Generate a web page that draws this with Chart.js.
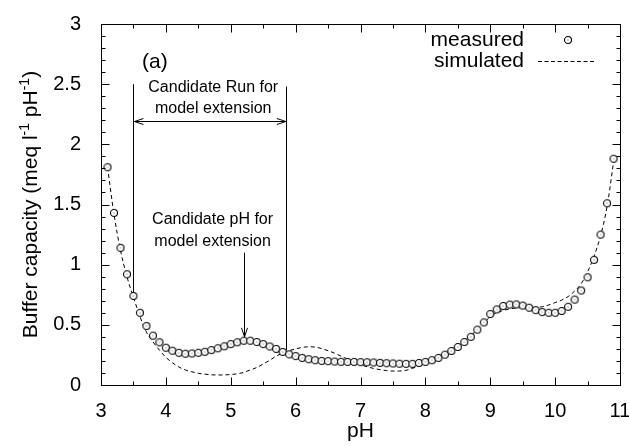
<!DOCTYPE html>
<html>
<head>
<meta charset="utf-8">
<script src="https://cdn.jsdelivr.net/npm/chart.js@4"></script>
<style>
  html, body { margin: 0; padding: 0; background: #fff; }
  canvas { display: block; }
</style>
</head>
<body>
<canvas id="bufferChart" width="629" height="446"></canvas>
<script>
// measured titration points (pH, buffer capacity)
const phMeasured = [3.1, 3.2, 3.3, 3.4, 3.5, 3.6, 3.7, 3.8, 3.9, 4.0,
  4.1, 4.2, 4.3, 4.4, 4.5, 4.6, 4.7, 4.8, 4.9, 5.0,
  5.1, 5.2, 5.3, 5.4, 5.5, 5.6, 5.7, 5.8, 5.9, 6.0,
  6.1, 6.2, 6.3, 6.4, 6.5, 6.6, 6.7, 6.8, 6.9, 7.0,
  7.1, 7.2, 7.3, 7.4, 7.5, 7.6, 7.7, 7.8, 7.9, 8.0,
  8.1, 8.2, 8.3, 8.4, 8.5, 8.6, 8.7, 8.8, 8.9, 9.0,
  9.1, 9.2, 9.3, 9.4, 9.5, 9.6, 9.7, 9.8, 9.9, 10.0,
  10.1, 10.2, 10.3, 10.4, 10.5, 10.6, 10.7, 10.8, 10.9];
const bufMeasured = [1.81, 1.43, 1.14, 0.92, 0.74, 0.60, 0.49, 0.41, 0.355, 0.31,
  0.285, 0.268, 0.26, 0.262, 0.268, 0.276, 0.29, 0.305, 0.322, 0.34,
  0.355, 0.368, 0.368, 0.357, 0.34, 0.32, 0.30, 0.275, 0.255, 0.24,
  0.225, 0.214, 0.206, 0.20, 0.198, 0.195, 0.193, 0.192, 0.192, 0.19,
  0.189, 0.187, 0.184, 0.181, 0.179, 0.177, 0.176, 0.176, 0.183, 0.192,
  0.206, 0.225, 0.252, 0.283, 0.316, 0.357, 0.40, 0.46, 0.52, 0.59,
  0.628, 0.657, 0.668, 0.67, 0.66, 0.642, 0.622, 0.606, 0.60, 0.60,
  0.615, 0.65, 0.71, 0.785, 0.895, 1.04, 1.25, 1.51, 1.88];

// model curve
const phSimulated = phMeasured.slice();
const bufSimulated = [1.81, 1.42, 1.12, 0.90, 0.73, 0.57, 0.44, 0.36, 0.29, 0.23,
  0.185, 0.15, 0.125, 0.11, 0.097, 0.09, 0.085, 0.083, 0.084, 0.087,
  0.093, 0.105, 0.125, 0.145, 0.175, 0.205, 0.24, 0.265, 0.285, 0.30,
  0.312, 0.318, 0.315, 0.303, 0.285, 0.265, 0.24, 0.215, 0.19, 0.168,
  0.152, 0.138, 0.128, 0.12, 0.116, 0.116, 0.122, 0.138, 0.16, 0.188,
  0.215, 0.245, 0.27, 0.295, 0.33, 0.37, 0.41, 0.46, 0.51, 0.57,
  0.60, 0.62, 0.632, 0.64, 0.642, 0.642, 0.645, 0.65, 0.665, 0.685,
  0.705, 0.735, 0.78, 0.84, 0.94, 1.07, 1.24, 1.48, 1.85];

// annotations (data coordinates)
const runBounds = [3.5, 5.85];
const runLineTop = [2.5, 2.48];
const runLineBottom = [0.77, 0.29];
const runArrowY = 2.19;
const runLabel = ['Candidate Run for', 'model extension'];
const runLabelPos = [4.73, 2.47, 2.30];
const peakPH = 5.2;
const peakArrow = [1.10, 0.40];
const peakLabel = ['Candidate pH for', 'model extension'];
const peakLabelPos = [4.72, 1.375, 1.195];
const panelLabel = '(a)';
const panelPos = [3.83, 2.68];

const FONT = '"Liberation Sans", Arial, sans-serif';

function circleMarker() {
  const c = document.createElement('canvas');
  c.width = 10; c.height = 10;
  const g = c.getContext('2d');
  g.fillStyle = '#fff';
  g.strokeStyle = '#000';
  g.lineWidth = 1.1;
  g.beginPath();
  g.arc(5, 5, 3.5, 0, Math.PI * 2);
  g.fill();
  g.stroke();
  g.fillStyle = '#666';
  g.fillRect(4.5, 4.5, 1, 1);
  return c;
}
const marker = circleMarker();

function arrowHead(ctx, tx, ty, dx, dy) {
  // open V head pointing along (dx, dy)
  const len = 9, half = 3;
  const px = -dy, py = dx;
  ctx.beginPath();
  ctx.moveTo(tx - dx * len + px * half, ty - dy * len + py * half);
  ctx.lineTo(tx, ty);
  ctx.lineTo(tx - dx * len - px * half, ty - dy * len - py * half);
  ctx.stroke();
}

const frame = {
  id: 'frame',
  afterDatasetsDraw(chart) {
    const c = chart.ctx;
    const area = chart.chartArea;
    const x = chart.scales.x, y = chart.scales.y;
    const L = Math.round(area.left) + 0.5, R = Math.round(area.right) + 0.5;
    const T = Math.round(area.top) + 0.5, B = Math.round(area.bottom) + 0.5;
    c.save();
    c.setLineDash([]);
    c.strokeStyle = '#000';
    c.lineWidth = 1;
    c.beginPath();
    c.moveTo(L, T); c.lineTo(R, T); c.lineTo(R, B); c.lineTo(L, B); c.closePath();
    // inward ticks on all four sides
    for (let i = 0; i <= 16; i++) {
      const len = i % 2 === 0 ? 8 : 4;
      const px = Math.round(x.getPixelForValue(3 + i * 0.5)) + 0.5;
      c.moveTo(px, B); c.lineTo(px, B - len);
      c.moveTo(px, T); c.lineTo(px, T + len);
    }
    for (let i = 0; i <= 30; i++) {
      const len = i % 5 === 0 ? 8 : 4;
      const py = Math.round(y.getPixelForValue(i / 10)) + 0.5;
      c.moveTo(L, py); c.lineTo(L + len, py);
      c.moveTo(R, py); c.lineTo(R - len, py);
    }
    c.stroke();
    c.restore();
  }
};

const decorations = {
  id: 'decorations',
  afterDraw(chart) {
    const { ctx, chartArea: a, scales: { x, y } } = chart;
    ctx.save();
    ctx.strokeStyle = '#000';
    ctx.fillStyle = '#000';
    ctx.lineWidth = 1;

    // candidate run
    ctx.beginPath();
    runBounds.forEach((v, i) => {
      const px = Math.round(x.getPixelForValue(v)) + 0.5;
      ctx.moveTo(px, y.getPixelForValue(runLineTop[i]));
      ctx.lineTo(px, y.getPixelForValue(runLineBottom[i]));
    });
    const ay = Math.round(y.getPixelForValue(runArrowY)) + 0.5;
    const ax1 = x.getPixelForValue(runBounds[0]) + 1;
    const ax2 = x.getPixelForValue(runBounds[1]);
    ctx.moveTo(ax1, ay); ctx.lineTo(ax2, ay);
    ctx.stroke();
    arrowHead(ctx, ax1, ay, -1, 0);
    arrowHead(ctx, ax2, ay, 1, 0);

    // candidate pH arrow
    const cx = Math.round(x.getPixelForValue(peakPH)) + 0.5;
    const cy1 = y.getPixelForValue(peakArrow[0]);
    const cy2 = y.getPixelForValue(peakArrow[1]);
    ctx.beginPath();
    ctx.moveTo(cx, cy1); ctx.lineTo(cx, cy2);
    ctx.stroke();
    arrowHead(ctx, cx, cy2, 0, 1);

    // annotation text
    ctx.textAlign = 'center';
    ctx.textBaseline = 'middle';
    ctx.font = '16px ' + FONT;
    const rx = x.getPixelForValue(runLabelPos[0]);
    ctx.fillText(runLabel[0], rx, y.getPixelForValue(runLabelPos[1]));
    ctx.fillText(runLabel[1], rx, y.getPixelForValue(runLabelPos[2]));
    const kx = x.getPixelForValue(peakLabelPos[0]);
    ctx.fillText(peakLabel[0], kx, y.getPixelForValue(peakLabelPos[1]));
    ctx.fillText(peakLabel[1], kx, y.getPixelForValue(peakLabelPos[2]));
    ctx.font = '21px ' + FONT;
    ctx.fillText(panelLabel, x.getPixelForValue(panelPos[0]), y.getPixelForValue(panelPos[1]));

    // legend
    ctx.textAlign = 'right';
    ctx.font = '21px ' + FONT;
    ctx.fillText('measured', 524, 40);
    ctx.fillText('simulated', 524, 61);
    ctx.drawImage(marker, 568 - 5, 40 - 5);
    ctx.beginPath();
    ctx.setLineDash([4, 2.5]);
    ctx.moveTo(538, 61.5); ctx.lineTo(595, 61.5);
    ctx.stroke();
    ctx.setLineDash([]);

    // axis titles
    ctx.textAlign = 'center';
    ctx.fillText('pH', (a.left + a.right) / 2, 431);

    ctx.translate(30, (a.top + a.bottom) / 2);
    ctx.rotate(-Math.PI / 2);
    const parts = [['Buffer capacity (meq l', false], ['-1', true], [' pH', false], ['-1', true], [')', false]];
    const big = '21px ' + FONT, small = '14px ' + FONT;
    let total = 0;
    parts.forEach(p => { ctx.font = p[1] ? small : big; total += ctx.measureText(p[0]).width; });
    let pos = -total / 2;
    ctx.textAlign = 'left';
    ctx.textBaseline = 'alphabetic';
    parts.forEach(p => {
      ctx.font = p[1] ? small : big;
      ctx.fillText(p[0], pos, p[1] ? -1 : 7);
      pos += ctx.measureText(p[0]).width;
    });
    ctx.restore();
  }
};

const ctx = document.getElementById('bufferChart').getContext('2d');
const bufferChart = new Chart(ctx, {
  type: 'scatter',
  data: {
    datasets: [{
      label: 'measured',
      data: phMeasured.map((v, i) => ({ x: v, y: bufMeasured[i] })),
      pointStyle: marker,
      pointRadius: 4,
      showLine: false,
      order: 1
    }, {
      label: 'simulated',
      data: phSimulated.map((v, i) => ({ x: v, y: bufSimulated[i] })),
      showLine: true,
      pointRadius: 0,
      borderColor: '#000',
      borderWidth: 1,
      borderDash: [4, 3],
      cubicInterpolationMode: 'monotone',
      order: 2
    }]
  },
  options: {
    responsive: false,
    animation: false,
    devicePixelRatio: 1,
    layout: { padding: { top: 21, right: 9, left: 0, bottom: 0 } },
    plugins: { legend: { display: false }, tooltip: { enabled: false } },
    scales: {
      x: {
        type: 'linear',
        min: 3,
        max: 11,
        grid: { display: false },
        border: { display: false },
        ticks: { stepSize: 1, color: '#000', padding: 6, font: { size: 20, family: FONT }, maxRotation: 0 },
        afterFit(scale) { scale.height = 61; scale.paddingLeft = 0; scale.paddingRight = 0; }
      },
      y: {
        min: 0,
        max: 3,
        grid: { display: false },
        border: { display: false },
        ticks: {
          stepSize: 0.5, color: '#000', padding: 12, font: { size: 20, family: FONT },
          callback: v => String(Math.round(v * 10) / 10)
        },
        afterFit(scale) { scale.width = 101; }
      }
    }
  },
  plugins: [frame, decorations]
});
</script>
</body>
</html>
